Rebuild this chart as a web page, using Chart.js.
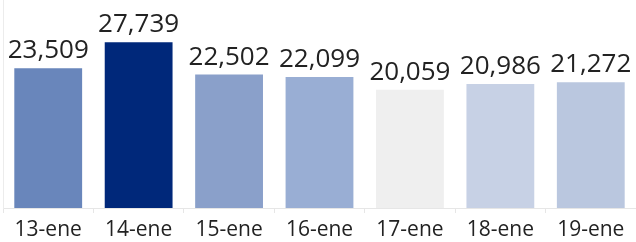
<!DOCTYPE html>
<html>
<head>
<meta charset="utf-8">
<script src="https://cdn.jsdelivr.net/npm/chart.js@4"></script>
<style>
  html, body { margin: 0; padding: 0; background: #fff; }
  #wrap { width: 636px; height: 242px; position: relative; }
</style>
</head>
<body>
<div id="wrap"><canvas id="grafico"></canvas></div>
<script>
// datos
const dias = ['13-ene', '14-ene', '15-ene', '16-ene', '17-ene', '18-ene', '19-ene'];
const valores = [23509, 27739, 22502, 22099, 20059, 20986, 21272];
const colores = ['#6986bb', '#00287a', '#8aa0ca', '#99aed4', '#efefef', '#c7d1e5', '#bac7df'];

const fuente = '"Open Sans", "Noto Sans", sans-serif';

// etiquetas de valor encima de cada barra
const etiquetasValor = {
    id: 'etiquetasValor',
    afterDatasetsDraw(chart) {
        const ctx = chart.ctx;
        const meta = chart.getDatasetMeta(0);
        ctx.save();
        ctx.font = '26px ' + fuente;
        ctx.fillStyle = '#222';
        ctx.textAlign = 'center';
        ctx.textBaseline = 'alphabetic';
        meta.data.forEach((bar, i) => {
            ctx.fillText(valores[i].toLocaleString('en-US'), bar.x, bar.y - 10);
        });
        ctx.restore();
    }
};

new Chart(document.getElementById('grafico'), {
    type: 'bar',
    data: {
        labels: dias,
        datasets: [{
            data: valores,
            backgroundColor: colores,
            barPercentage: 0.75,
            categoryPercentage: 1
        }]
    },
    options: {
        responsive: true,
        maintainAspectRatio: false,
        animation: false,
        layout: { padding: { left: 0, right: -2, top: 0, bottom: 0 } },
        plugins: { legend: { display: false }, tooltip: { enabled: false } },
        scales: {
            x: {
                offset: true,
                grid: { offset: true, drawOnChartArea: false, color: '#e6e6e6', tickLength: 5 },
                border: { color: '#e6e6e6' },
                ticks: { color: '#222', font: { family: fuente, size: 21 }, padding: 4, maxRotation: 0 },
                afterFit: (axis) => { axis.height = 34; }
            },
            y: {
                min: 900,
                max: 34570,
                grid: { display: false },
                border: { color: '#ececec' },
                ticks: { display: false },
                afterFit: (axis) => { axis.width = 3; }
            }
        }
    },
    plugins: [etiquetasValor]
});
</script>
</body>
</html>
